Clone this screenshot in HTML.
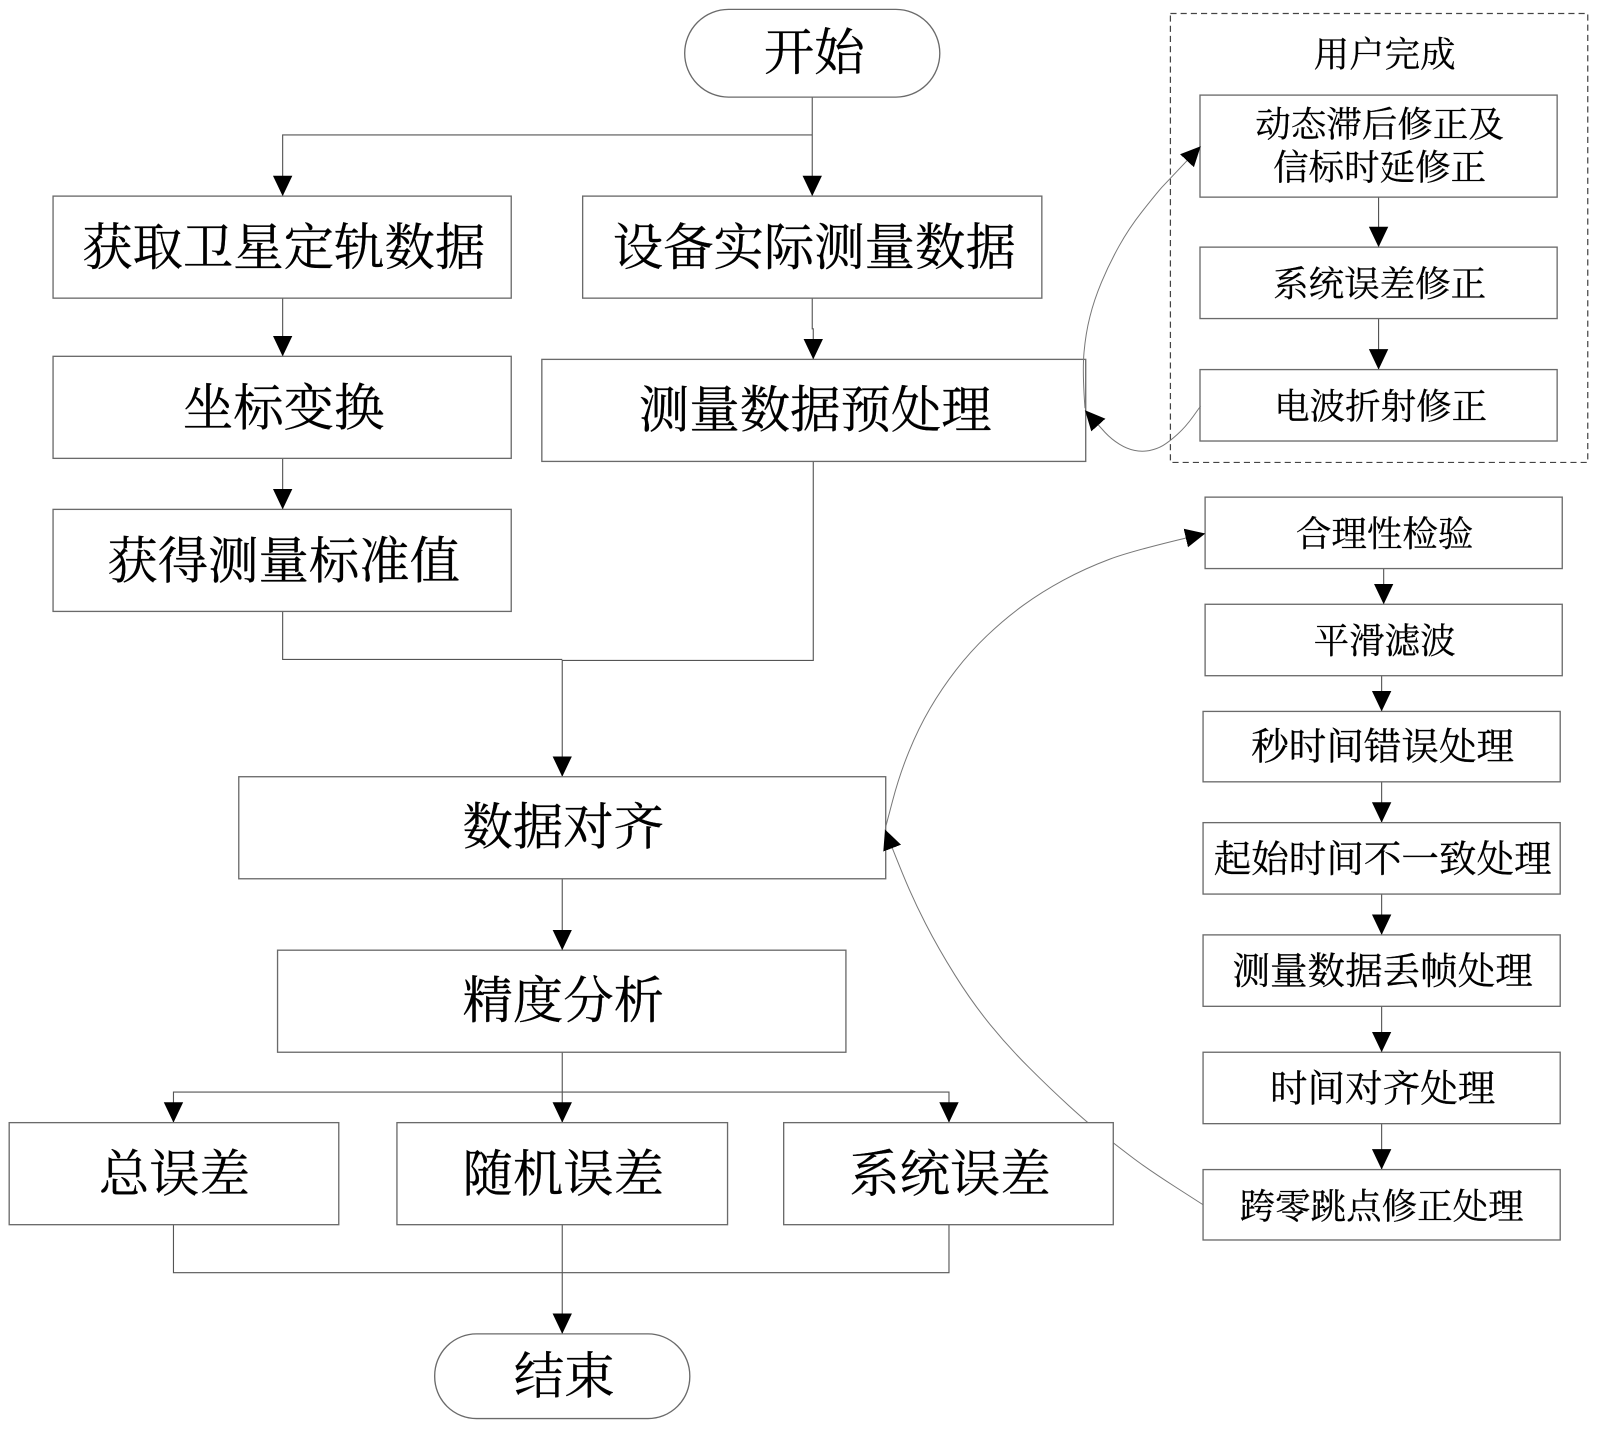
<!DOCTYPE html>
<html lang="zh"><head><meta charset="utf-8"><title>流程图</title>
<style>
html,body{margin:0;padding:0;background:#fff;width:1600px;height:1431px;overflow:hidden}
svg{display:block}
text{font-family:"Liberation Serif","Noto Serif CJK SC",serif;fill:#000;stroke:#000;stroke-width:.25;text-anchor:middle;dominant-baseline:central}
.b{fill:#fff;stroke:#6a6a6a;stroke-width:1.3}
.l{fill:none;stroke:#555;stroke-width:1.1}
.c{fill:none;stroke:#777;stroke-width:1;stroke-linejoin:round}
.big{font-size:49.4px}
.sm{font-size:34.8px}
.md{font-size:36.8px}
</style></head><body>
<svg width="1600" height="1431" viewBox="0 0 1568 1402" xmlns="http://www.w3.org/2000/svg">
<defs>
<marker id="a" viewBox="0 0 20 20" refX="20" refY="10" markerWidth="20" markerHeight="20" markerUnits="userSpaceOnUse" orient="auto"><path d="M0,.5 L20,10 L0,19.5 Z" fill="#000"/></marker>
</defs>
<rect width="1568" height="1402" fill="#fff"/>

<rect x="1147" y="13" width="409" height="440" fill="none" stroke="#444" stroke-width="1.2" stroke-dasharray="6 4"/>

<!-- orthogonal connectors -->
<path class="l" d="M796,95 V192" marker-end="url(#a)"/>
<path class="l" d="M796,132 H277 V192" marker-end="url(#a)"/>
<path class="l" d="M277,292 V349" marker-end="url(#a)"/>
<path class="l" d="M277,449 V499" marker-end="url(#a)"/>
<path class="l" d="M796,292 V322 H797 V352" marker-end="url(#a)"/>
<path class="l" d="M277,599 V646 H551"/>
<path class="l" d="M797,452 V647 H551 V761" marker-end="url(#a)"/>
<path class="l" d="M551,861 V931" marker-end="url(#a)"/>
<path class="l" d="M551,1031 V1100" marker-end="url(#a)"/>
<path class="l" d="M551,1070 H170 V1100" marker-end="url(#a)"/>
<path class="l" d="M551,1070 H930 V1100" marker-end="url(#a)"/>
<path class="l" d="M170,1200 V1247 H930 V1200"/>
<path class="l" d="M551,1200 V1307" marker-end="url(#a)"/>
<path class="l" d="M1351,193 V242" marker-end="url(#a)"/>
<path class="l" d="M1351,312 V362" marker-end="url(#a)"/>
<path class="l" d="M1356,557 V592" marker-end="url(#a)"/>
<path class="l" d="M1354,662 V697" marker-end="url(#a)"/>
<path class="l" d="M1354,766 V806" marker-end="url(#a)"/>
<path class="l" d="M1354,876 V916" marker-end="url(#a)"/>
<path class="l" d="M1354,986 V1031" marker-end="url(#a)"/>
<path class="l" d="M1354,1101 V1146" marker-end="url(#a)"/>

<!-- main boxes -->
<rect class="b" x="671" y="9" width="250" height="86" rx="43"/>
<text class="big" x="798" y="52">开始</text>
<rect class="b" x="52" y="192" width="449" height="100"/>
<text class="big" x="278" y="243">获取卫星定轨数据</text>
<rect class="b" x="571" y="192" width="450" height="100"/>
<text class="big" x="798" y="243">设备实际测量数据</text>
<rect class="b" x="52" y="349" width="449" height="100"/>
<text class="big" x="278" y="400">坐标变换</text>
<rect class="b" x="531" y="352" width="533" height="100"/>
<text class="big" x="799" y="402">测量数据预处理</text>
<rect class="b" x="52" y="499" width="449" height="100"/>
<text class="big" x="278" y="550">获得测量标准值</text>
<rect class="b" x="234" y="761" width="634" height="100"/>
<text class="big" x="552" y="811">数据对齐</text>
<rect class="b" x="272" y="931" width="557" height="100"/>
<text class="big" x="552" y="981">精度分析</text>
<rect class="b" x="9" y="1100" width="323" height="100"/>
<text class="big" x="171" y="1151">总误差</text>
<rect class="b" x="389" y="1100" width="324" height="100"/>
<text class="big" x="552" y="1151">随机误差</text>

<!-- lower curved connector, passes behind the 系统误差 box -->
<g transform="scale(.98)">
<path class="c" d="M1202.7,1204.3 L1174.7,1186.3 Q1146.7,1168.3 1130.4,1155.8 Q1114,1143.3 1100.9,1133 Q1087.7,1122.7 1068.9,1105.5 Q1050,1088.3 1029.2,1067.5 Q1008.3,1046.7 990,1024.2 Q971.7,1001.7 955,975 Q938.3,948.3 925.5,923.3 Q912.7,898.3 902.5,873.3 Q892.3,848.3 885,829.3" marker-end="url(#a)"/>
</g>

<rect class="b" x="768" y="1100" width="323" height="100"/>
<text class="big" x="931" y="1151">系统误差</text>
<rect class="b" x="426" y="1307" width="250" height="83" rx="41"/>
<text class="big" x="553" y="1349">结束</text>

<!-- user group -->
<text class="sm" x="1357" y="53">用户完成</text>
<rect class="b" x="1176" y="93" width="350" height="100"/>
<text class="sm" x="1352" y="122">动态滞后修正及</text>
<text class="sm" x="1352" y="164">信标时延修正</text>
<rect class="b" x="1176" y="242" width="350" height="70"/>
<text class="sm" x="1352" y="278">系统误差修正</text>
<rect class="b" x="1176" y="362" width="350" height="70"/>
<text class="sm" x="1353" y="398">电波折射修正</text>

<!-- right column -->
<rect class="b" x="1181" y="487" width="350" height="70"/>
<text class="sm" x="1357" y="523">合理性检验</text>
<rect class="b" x="1181" y="592" width="350" height="70"/>
<text class="sm" x="1357" y="628">平滑滤波</text>
<rect class="b" x="1179" y="697" width="350" height="69"/>
<text class="md" x="1355" y="733">秒时间错误处理</text>
<rect class="b" x="1179" y="806" width="350" height="70"/>
<text class="md" x="1355" y="843">起始时间不一致处理</text>
<rect class="b" x="1179" y="916" width="350" height="70"/>
<text class="md" x="1355" y="953">测量数据丢帧处理</text>
<rect class="b" x="1179" y="1031" width="350" height="70"/>
<text class="md" x="1355" y="1068">时间对齐处理</text>
<rect class="b" x="1179" y="1146" width="350" height="69"/>
<text class="sm" x="1354" y="1182">跨零跳点修正处理</text>

<!-- curved connectors drawn above boxes -->
<g transform="scale(.98)">
<path class="c" d="M1085,408 Q1082.3,371.7 1084,352.3 Q1085.7,333 1089.9,316.5 Q1094,300 1101.5,282 Q1109,264 1119,246 Q1129,228 1142,211.5 Q1155,195 1161.5,187.5 L1200.7,146" marker-end="url(#a)"/>
<path class="c" d="M1200.7,405.7 L1193.2,416.2 Q1185.7,426.7 1177.4,434.2 Q1169,441.7 1162.9,445.4 Q1156.7,449 1149.2,450.4 Q1141.7,451.7 1134.4,450.2 Q1127,448.7 1119.4,444 Q1111.7,439.3 1105,432.2 L1085,410" marker-end="url(#a)"/>
<path class="c" d="M885.7,826.7 L892.5,800.9 Q899.3,775 908.8,751.7 Q918.3,728.3 930,708.3 Q941.7,688.3 955.9,670 Q970,651.7 987.5,635 Q1005,618.3 1023.4,605 Q1041.7,591.7 1063.4,580 Q1085,568.3 1109.2,559.2 Q1133.3,550 1205.3,533.3" marker-end="url(#a)"/>
</g>
</svg>
</body></html>
